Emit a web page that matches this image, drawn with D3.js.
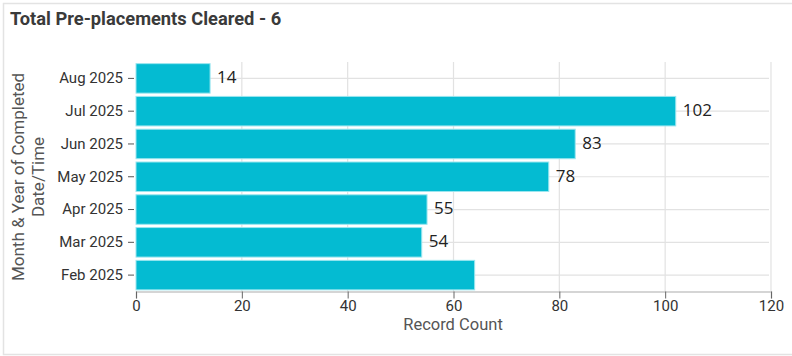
<!DOCTYPE html>
<html>
<head>
<meta charset="utf-8">
<script src="https://cdn.jsdelivr.net/npm/d3@7/dist/d3.min.js"></script>
<style>
  html, body { margin: 0; padding: 0; background: #fff; }
  svg { display: block; }
</style>
</head>
<body>
<svg id="chart" width="792" height="356"></svg>
<script>
// Monthly counts of completed pre-placements, newest first
const months = ["Aug 2025", "Jul 2025", "Jun 2025", "May 2025", "Apr 2025", "Mar 2025", "Feb 2025"];
const counts = [14, 102, 83, 78, 55, 54, 64];
// Months that carry a value label beside the bar
const labelled = [true, true, true, true, true, true, false];
const xTicks = [0, 20, 40, 60, 80, 100, 120];
const titleText = "Total Pre-placements Cleared - 6";
const xTitle = "Record Count";
const yTitle = ["Month & Year of Completed", "Date/Time"];

const svg = d3.select("#chart");
const W = 792, H = 356;
const plot = { left: 136, right: 771, top: 62, bottom: 291.5 };

// card frame
svg.append("rect")
  .attr("x", 3.5).attr("y", 3.5)
  .attr("width", W + 10).attr("height", H - 5)
  .attr("fill", "#fff").attr("stroke", "#e3e3e3").attr("stroke-width", 1.5);

svg.append("text")
  .attr("x", 10).attr("y", 25)
  .attr("font-family", "Roboto, sans-serif")
  .attr("font-weight", "bold")
  .attr("font-size", 18.3)
  .attr("fill", "#3a3a3a")
  .text(titleText);

const x = d3.scaleLinear().domain([0, 120]).range([plot.left, plot.right]);
const y = d3.scaleBand().domain(months).range([plot.top, plot.bottom])
  .paddingInner(0.1).paddingOuter(0.05);

const data = months.map((m, i) => ({ month: m, value: counts[i], label: labelled[i] }));

// grid
const grid = svg.append("g").attr("stroke", "#e2e2e2").attr("stroke-width", 1.2);
grid.selectAll("line.v").data(xTicks.slice(1)).join("line")
  .attr("x1", d => x(d)).attr("x2", d => x(d))
  .attr("y1", plot.top).attr("y2", plot.bottom);
grid.selectAll("line.h").data(months).join("line")
  .attr("x1", plot.left).attr("x2", plot.right - 2)
  .attr("y1", d => y(d) + y.bandwidth() / 2).attr("y2", d => y(d) + y.bandwidth() / 2);

// bars
svg.append("g").selectAll("rect").data(data).join("rect")
  .attr("x", x(0))
  .attr("y", d => y(d.month))
  .attr("width", d => x(d.value) - x(0))
  .attr("height", y.bandwidth())
  .attr("fill", "#04bbd2")
  .attr("stroke", "#9be6ef")
  .attr("stroke-width", 1);

// value labels
svg.append("g").selectAll("text").data(data.filter(d => d.label)).join("text")
  .attr("x", d => x(d.value) + 7)
  .attr("y", d => y(d.month) + y.bandwidth() / 2 - 1)
  .attr("dy", "0.35em")
  .attr("font-family", "'Open Sans', sans-serif")
  .attr("font-size", 17)
  .attr("fill", "#222")
  .text(d => d.value);

// x axis
const xAxis = svg.append("g")
  .attr("transform", `translate(0,${plot.bottom})`)
  .call(d3.axisBottom(x).tickValues(xTicks).tickSize(7).tickPadding(2).tickFormat(d3.format("d")));
xAxis.select(".domain").attr("stroke", "#c8c8c8").attr("stroke-width", 1.5);
xAxis.selectAll(".tick line").attr("stroke", "#666");
xAxis.selectAll(".tick text")
  .attr("font-family", "Roboto, sans-serif").attr("font-size", 15).attr("fill", "#333");

// y axis
const yAxis = svg.append("g")
  .attr("transform", `translate(134,0)`)
  .call(d3.axisLeft(y).tickSize(6).tickPadding(5));
yAxis.select(".domain").remove();
yAxis.selectAll(".tick line").attr("stroke", "#555");
yAxis.selectAll(".tick text")
  .attr("font-family", "Roboto, sans-serif").attr("font-size", 15).attr("fill", "#333");

// axis titles
svg.append("text")
  .attr("x", 453).attr("y", 330)
  .attr("text-anchor", "middle")
  .attr("font-family", "Roboto, sans-serif").attr("font-size", 16.5).attr("fill", "#555")
  .text(xTitle);

const yt = svg.append("text")
  .attr("transform", "translate(0,177) rotate(-90)")
  .attr("text-anchor", "middle")
  .attr("font-family", "Roboto, sans-serif").attr("font-size", 17).attr("fill", "#555");
yTitle.forEach((line, i) => {
  yt.append("tspan").attr("x", 0).attr("y", 24 + i * 20).text(line);
});
</script>
</body>
</html>
